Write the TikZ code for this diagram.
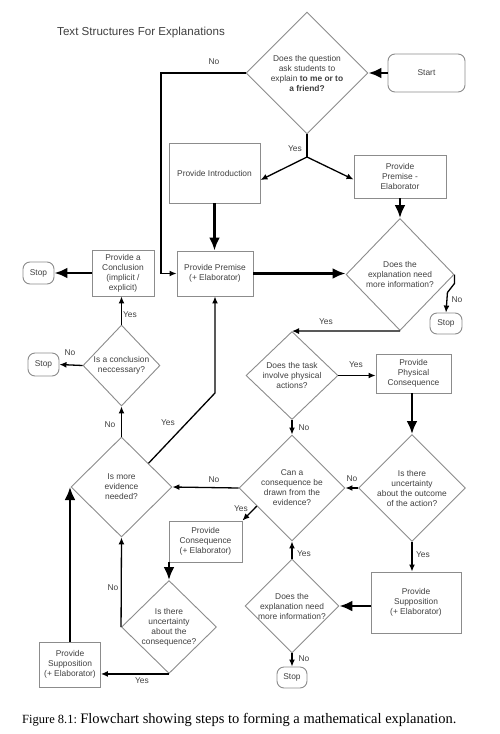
\documentclass[tikz,border=0pt]{standalone}
\usepackage{fontspec}
\setmainfont{Liberation Sans}
\newfontfamily\capfont{Liberation Serif}
\usepackage{xcolor}
\usetikzlibrary{shapes.geometric,arrows.meta,calc}

\definecolor{boxgray}{HTML}{8C8C8C}
\definecolor{textgray}{HTML}{404040}
\newcommand{\chartfont}{\fontsize{8.4}{10}\selectfont}

\tikzset{
  procbox/.style 2 args={draw=boxgray, line width=0.9pt, align=center, inner sep=0pt,
    text=textgray, font=\chartfont, minimum width=#1, minimum height=#2},
  termbox/.style 2 args={procbox={#1}{#2}, rounded corners=7pt},
  decision/.style 2 args={diamond, procbox={#1}{#2}},
  lbl/.style={font=\chartfont, text=textgray, inner sep=1pt},
  flow/.style={line width=1.3pt, -{Latex[length=7pt,width=6pt]}},
  bigflow/.style={line width=2.8pt, -{Latex[length=13pt,width=11pt]}},
}

\begin{document}
\begin{tikzpicture}[x=1pt,y=-1pt]
    \fill[white] (0,0) rectangle (500,734);
    \useasboundingbox (0,0) rectangle (500,734);

    % Title
    \node[anchor=west, inner sep=0pt, text=textgray, font=\fontsize{11.6}{13}\selectfont] (title) at (57,32) {Text Structures For Explanations};

    % Top part
    \node[termbox={77pt}{38pt}] (start) at (426.5,73) {Start};
    \node[decision={122pt}{122pt}] (ask) at (307,73) {Does the question\\ask students to\\explain \textbf{to me or to}\\\textbf{a friend?}};
    \node[procbox={91pt}{60pt}] (intro) at (214.5,173) {Provide Introduction};
    \node[procbox={92pt}{43pt}] (premel) at (400,176.5) {Provide\\Premise -\\Elaborator};
    \node[procbox={76pt}{45pt}] (premise) at (215,273.5) {Provide Premise\\(+ Elaborator)};
    \node[procbox={62pt}{46pt}] (concl) at (123,273) {Provide a\\Conclusion\\(implicit /\\explicit)};
    \node[termbox={31pt}{22pt}] (stopA) at (38.5,273) {Stop};
    \node[decision={108pt}{112pt}] (moreinfoA) at (400,274.5) {Does the\\explanation need\\more information?};
    \node[termbox={32pt}{21pt}] (stopB) at (446,323.5) {Stop};

    % Middle part
    \node[decision={92pt}{88pt}] (physq) at (292,375.5) {Does the task\\involve physical\\actions?};
    \node[procbox={75pt}{39pt}] (physcons) at (413.5,373.5) {Provide\\Physical\\Consequence};
    \node[decision={77pt}{81pt}] (conclq) at (121.5,365.5) {Is a conclusion\\neccessary?};
    \node[termbox={31pt}{23pt}] (stopC) at (43.5,364.5) {Stop};
    \node[decision={101pt}{100pt}] (evidq) at (121.5,487) {Is more\\evidence\\needed?};
    \node[decision={106pt}{106pt}] (consq) at (292,488) {Can a\\consequence be\\drawn from the\\evidence?};
    \node[decision={107pt}{107pt}] (uncertA) at (412,488) {Is there\\uncertainty\\about the outcome\\of the action?};

    % Bottom part
    \node[procbox={90pt}{61pt}] (suppR) at (416,602.5) {Provide\\Supposition\\(+ Elaborator)};
    \node[decision={92pt}{90pt}] (moreinfoB) at (292,606) {Does the\\explanation need\\more information?};
    \node[termbox={30pt}{21pt}] (stopD) at (292,677.5) {Stop};
    \node[procbox={73pt}{41pt}] (cons) at (205.5,541.5) {Provide\\Consequence\\(+ Elaborator)};
    \node[decision={95pt}{93pt}] (uncertB) at (169,627) {Is there\\uncertainty\\about the\\consequence?};
    \node[procbox={61pt}{45pt}] (suppL) at (70,664.5) {Provide\\Supposition\\(+ Elaborator)};

    % Bends
    \coordinate (fork) at (307,157);
    \coordinate (noturn) at (161,73);
    \coordinate (yesturn) at (215,393);

    % Thick arrows
    \draw[bigflow] (start) -- (ask.east);
    \draw[bigflow] (intro.south) -- (intro.south |- premise.north);
    \draw[bigflow] (premel.south) -- (moreinfoA.north);
    \draw[bigflow] (premise.east) -- (premise.east -| moreinfoA.west);
    \draw[bigflow] (concl.west) -- (stopA.east);
    \draw[bigflow] (uncertA.north |- physcons.south) -- (uncertA.north);
    \draw[bigflow] (suppR.west |- moreinfoB.east) -- (moreinfoB.east);
    \draw[bigflow] (uncertB.north |- cons.south) -- (uncertB.north);
    \draw[bigflow] (suppL.north) -- (suppL.north |- evidq.west);

    % Thin arrows
    \draw[line width=1.5pt] (ask.south) -- (fork);
    \draw[flow] (fork) -- ([yshift=-7pt]intro.east);
    \draw[flow] (fork) -- ([yshift=-3pt]premel.west);
    \draw[flow] (ask.west) -- (noturn) |- (premise.west);
    \draw[flow] (moreinfoA.east) -- ++(0,9) -- ++(-7,9) -- (stopB.north);
    \draw[flow] (moreinfoA.south) -- (physq.north);
    \draw[flow] (physq.east) -- (physq.east -| physcons.west);
    \draw[flow] (physq.south) -- (consq.north);
    \draw[flow] (uncertA.west) -- (consq.east);
    \draw[flow] (consq.west) -- (evidq.east);
    \draw[flow] (uncertA.south) -- (uncertA.south |- suppR.north);
    \draw[flow] (moreinfoB.north) -- (consq.south);
    \draw[flow] (moreinfoB.south) -- (stopD.north);
    \draw[flow] ($(consq.west)!0.34!(consq.south)$) -- (cons.north east);
    \draw[flow] (uncertB.west) -- (evidq.south);
    \draw[flow] (uncertB.south) -- (suppL.east |- uncertB.south);
    \draw[flow] (evidq.north) -- (conclq.south);
    \draw[flow] (conclq.north) -- (conclq.north |- concl.south);
    \draw[flow] (conclq.west) -- (stopC.east);
    \draw[flow] ($(evidq.north)!0.53!(evidq.east)$) -- (yesturn) -- (premise.south);

    % Yes / No labels
    \node[lbl] (noAsk) at (214,62) {No};
    \node[lbl] (yesAsk) at (295,149) {Yes};
    \node[lbl] (noMoreA) at (457,300) {No};
    \node[lbl] (yesMoreA) at (326,322) {Yes};
    \node[lbl] (yesPhys) at (356,365) {Yes};
    \node[lbl] (noPhys) at (304,428) {No};
    \node[lbl] (noUncA) at (352,479) {No};
    \node[lbl] (noCons) at (214,480) {No};
    \node[lbl] (yesCons) at (241,509) {Yes};
    \node[lbl] (yesUncA) at (423,555) {Yes};
    \node[lbl] (yesMoreB) at (304,554) {Yes};
    \node[lbl] (noMoreB) at (304,659) {No};
    \node[lbl] (noUncB) at (113,588) {No};
    \node[lbl] (yesUncB) at (142,681) {Yes};
    \node[lbl] (noEvid) at (110,425) {No};
    \node[lbl] (yesEvid) at (168,423) {Yes};
    \node[lbl] (yesConcl) at (130,315) {Yes};
    \node[lbl] (noConcl) at (70,353) {No};

    % Caption
    \node[anchor=west, inner sep=0pt, font=\capfont] (caption) at (22,720) {{\fontsize{12.5}{14}\selectfont Figure 8.1:} {\fontsize{14.5}{17}\selectfont Flowchart showing steps to forming a mathematical explanation.}};
\end{tikzpicture}
\end{document}
